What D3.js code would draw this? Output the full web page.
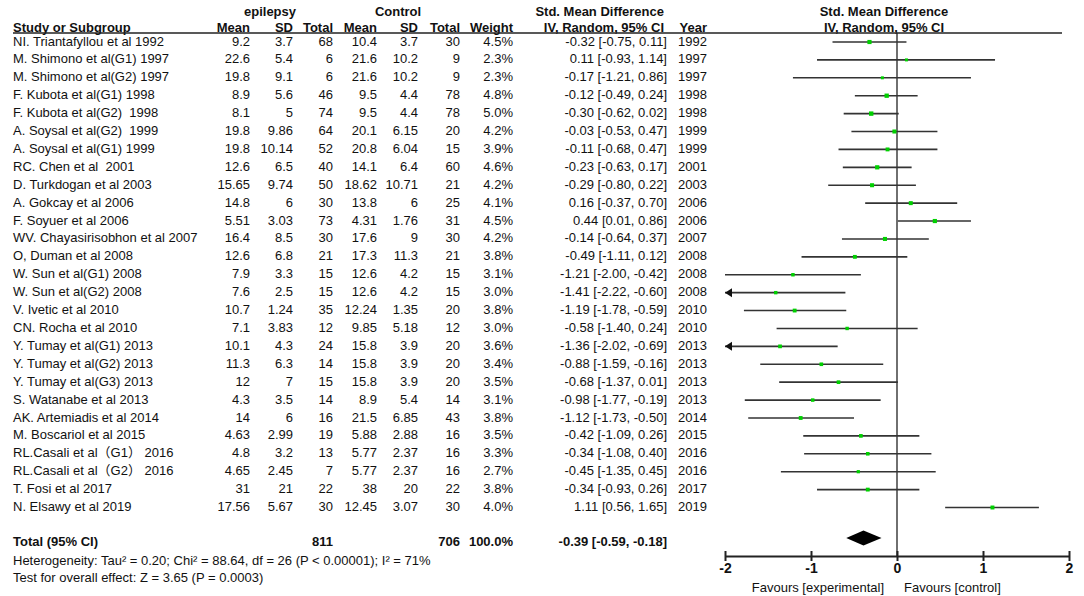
<!DOCTYPE html>
<html>
<head>
<meta charset="utf-8">
<script src="https://cdn.jsdelivr.net/npm/d3@7"></script>
<style>
  body { margin: 0; background: #fff; }
  svg text { font-family: "Liberation Sans", Arial, "Noto Sans CJK SC", sans-serif; fill: #111; white-space: pre; }
  .bold { font-weight: bold; }
</style>
</head>
<body>
<svg></svg>
<script>
// table data
const studies = [
  "NI. Triantafyllou et al 1992", "M. Shimono et al(G1) 1997", "M. Shimono et al(G2) 1997",
  "F. Kubota et al(G1) 1998", "F. Kubota et al(G2)  1998", "A. Soysal et al(G2)  1999",
  "A. Soysal et al(G1) 1999", "RC. Chen et al  2001", "D. Turkdogan et al 2003",
  "A. Gokcay et al 2006", "F. Soyuer et al 2006", "WV. Chayasirisobhon et al 2007",
  "O, Duman et al 2008", "W. Sun et al(G1) 2008", "W. Sun et al(G2) 2008",
  "V. Ivetic et al 2010", "CN. Rocha et al 2010", "Y. Tumay et al(G1) 2013",
  "Y. Tumay et al(G2) 2013", "Y. Tumay et al(G3) 2013", "S. Watanabe et al 2013",
  "AK. Artemiadis et al 2014", "M. Boscariol et al 2015", "RL.Casali et al（G1） 2016",
  "RL.Casali et al（G2） 2016", "T. Fosi et al 2017", "N. Elsawy et al 2019"
];
const epiMean = ["9.2","22.6","19.8","8.9","8.1","19.8","19.8","12.6","15.65","14.8","5.51","16.4","12.6","7.9","7.6","10.7","7.1","10.1","11.3","12","4.3","14","4.63","4.8","4.65","31","17.56"];
const epiSD   = ["3.7","5.4","9.1","5.6","5","9.86","10.14","6.5","9.74","6","3.03","8.5","6.8","3.3","2.5","1.24","3.83","4.3","6.3","7","3.5","6","2.99","3.2","2.45","21","5.67"];
const epiN    = [68,6,6,46,74,64,52,40,50,30,73,30,21,15,15,35,12,24,14,15,14,16,19,13,7,22,30];
const ctlMean = ["10.4","21.6","21.6","9.5","9.5","20.1","20.8","14.1","18.62","13.8","4.31","17.6","17.3","12.6","12.6","12.24","9.85","15.8","15.8","15.8","8.9","21.5","5.88","5.77","5.77","38","12.45"];
const ctlSD   = ["3.7","10.2","10.2","4.4","4.4","6.15","6.04","6.4","10.71","6","1.76","9","11.3","4.2","4.2","1.35","5.18","3.9","3.9","3.9","5.4","6.85","2.88","2.37","2.37","20","3.07"];
const ctlN    = [30,9,9,78,78,20,15,60,21,25,31,30,21,15,15,20,12,20,20,20,14,43,16,16,16,22,30];
const weight  = [4.5,2.3,2.3,4.8,5.0,4.2,3.9,4.6,4.2,4.1,4.5,4.2,3.8,3.1,3.0,3.8,3.0,3.6,3.4,3.5,3.1,3.8,3.5,3.3,2.7,3.8,4.0];
const smd     = [-0.32,0.11,-0.17,-0.12,-0.30,-0.03,-0.11,-0.23,-0.29,0.16,0.44,-0.14,-0.49,-1.21,-1.41,-1.19,-0.58,-1.36,-0.88,-0.68,-0.98,-1.12,-0.42,-0.34,-0.45,-0.34,1.11];
const ciLo    = [-0.75,-0.93,-1.21,-0.49,-0.62,-0.53,-0.68,-0.63,-0.80,-0.37,0.01,-0.64,-1.11,-2.00,-2.22,-1.78,-1.40,-2.02,-1.59,-1.37,-1.77,-1.73,-1.09,-1.08,-1.35,-0.93,0.56];
const ciHi    = [0.11,1.14,0.86,0.24,0.02,0.47,0.47,0.17,0.22,0.70,0.86,0.37,0.12,-0.42,-0.60,-0.59,0.24,-0.69,-0.16,0.01,-0.19,-0.50,0.26,0.40,0.45,0.26,1.65];
const years   = [1992,1997,1997,1998,1998,1999,1999,2001,2003,2006,2006,2007,2008,2008,2008,2010,2010,2013,2013,2013,2013,2014,2015,2016,2016,2017,2019];

// pooled result
const totalEpiN = 811;
const totalCtlN = 706;
const pooled = { est: -0.39, lo: -0.59, hi: -0.18 };
const axisTicks = [-2, -1, 0, 1, 2];

const width = 1084;
const height = 596;
const svg = d3.select("svg").attr("width", width).attr("height", height);

// plain hyphen instead of d3's unicode minus
const fmt2 = (v) => d3.format(".2f")(v).replace("\u2212", "-");
const ciText = (i) => fmt2(smd[i]) + " [" + fmt2(ciLo[i]) + ", " + fmt2(ciHi[i]) + "]";

let x = d3.scaleLinear().domain([-2, 2]).range([725, 1069]);
let y = d3.scaleLinear().domain([0, studies.length - 1]).range([41, 506.5]);
let wScale = d3.scaleSqrt().domain([0, d3.max(weight)]).range([0, 4.4]);

const fs = 13;

function txt(xp, yp, s, anchor, bold, size) {
  svg.append("text")
     .attr("x", xp)
     .attr("y", yp)
     .attr("dy", "0.35em")
     .attr("text-anchor", anchor || "start")
     .attr("class", bold ? "bold" : null)
     .style("font-size", (size || fs) + "px")
     .text(s);
}

function drawHeader() {
  txt(270, 11, "epilepsy", "middle", true);
  txt(398, 11, "Control", "middle", true);
  txt(664, 11, "Std. Mean Difference", "end", true);
  txt(884, 11, "Std. Mean Difference", "middle", true);

  txt(13, 27, "Study or Subgroup", "start", true);
  txt(250, 27, "Mean", "end", true);
  txt(293, 27, "SD", "end", true);
  txt(333, 27, "Total", "end", true);
  txt(377, 27, "Mean", "end", true);
  txt(418, 27, "SD", "end", true);
  txt(460, 27, "Total", "end", true);
  txt(513, 27, "Weight", "end", true);
  txt(664, 27, "IV, Random, 95% CI", "end", true);
  txt(707, 27, "Year", "end", true);
  txt(884, 27, "IV, Random, 95% CI", "middle", true);

  svg.append("line")
     .attr("x1", 13).attr("x2", 1062)
     .attr("y1", 33).attr("y2", 33)
     .attr("stroke", "#222").attr("stroke-width", 1.5);
}

function drawRows() {
  studies.forEach((s, i) => {
    const yy = y(i);
    txt(13, yy, s, "start");
    txt(250, yy, epiMean[i], "end");
    txt(293, yy, epiSD[i], "end");
    txt(333, yy, epiN[i], "end");
    txt(377, yy, ctlMean[i], "end");
    txt(418, yy, ctlSD[i], "end");
    txt(460, yy, ctlN[i], "end");
    txt(513, yy, weight[i].toFixed(1) + "%", "end");
    txt(667, yy, ciText(i), "end");
    txt(707, yy, years[i], "end");
  });

  txt(13, 541.5, "Total (95% CI)", "start", true);
  txt(333, 541.5, totalEpiN, "end", true);
  txt(460, 541.5, totalCtlN, "end", true);
  txt(513, 541.5, "100.0%", "end", true);
  txt(667, 541.5, fmt2(pooled.est) + " [" + fmt2(pooled.lo) + ", " + fmt2(pooled.hi) + "]", "end", true);
  txt(13, 560, "Heterogeneity: Tau\u00b2 = 0.20; Chi\u00b2 = 88.64, df = 26 (P < 0.00001); I\u00b2 = 71%", "start");
  txt(13, 577.5, "Test for overall effect: Z = 3.65 (P = 0.0003)", "start");
}

function drawPlot() {
  // line of no effect
  svg.append("line")
     .attr("x1", x(0)).attr("x2", x(0))
     .attr("y1", 33).attr("y2", 556)
     .attr("stroke", "#222").attr("stroke-width", 1.3);

  const g = svg.append("g");
  studies.forEach((s, i) => {
    const yy = y(i) + 1;
    const lo = Math.max(ciLo[i], -2);
    const hi = Math.min(ciHi[i], 2);
    g.append("line")
     .attr("x1", x(lo)).attr("x2", x(hi))
     .attr("y1", yy).attr("y2", yy)
     .attr("stroke", "#333").attr("stroke-width", 1.6);
    if (ciLo[i] < -2.005) {
      const ax = x(-2);
      g.append("path")
       .attr("d", "M" + ax + "," + yy + "l7,-4.5l0,9z")
       .attr("fill", "#111");
    }
    const sz = wScale(weight[i]);
    g.append("rect")
     .attr("x", x(smd[i]) - sz / 2)
     .attr("y", yy - sz / 2)
     .attr("width", sz)
     .attr("height", sz)
     .attr("fill", "#00d000");
  });

  // pooled diamond
  const dy = 538, dh = 7.5;
  svg.append("path")
     .attr("d", "M" + x(pooled.lo) + "," + dy +
                "L" + x(pooled.est) + "," + (dy - dh) +
                "L" + x(pooled.hi) + "," + dy +
                "L" + x(pooled.est) + "," + (dy + dh) + "Z")
     .attr("fill", "#000");

  // axis
  const xAxis = d3.axisBottom(x).tickValues(axisTicks).tickSizeInner(0).tickSizeOuter(0).tickPadding(7);
  const ax = svg.append("g")
     .attr("transform", "translate(0," + 556 + ")")
     .call(xAxis);
  ax.select(".domain").attr("stroke", "#222").attr("stroke-width", 2);
  ax.selectAll(".tick line")
    .attr("y1", -5).attr("y2", 5)
    .attr("stroke", "#222").attr("stroke-width", 2);
  ax.selectAll(".tick text")
    .style("font-size", "14px")
    .style("font-weight", "bold")
    .style("font-family", "'Liberation Sans', Arial, sans-serif")
    .attr("fill", "#111")
    .text(d => d < 0 ? "-" + Math.abs(d) : d);

  txt(x(0) - 13, 587, "Favours [experimental]", "end");
  txt(x(0) + 7, 587, "Favours [control]", "start");
}

drawHeader();
drawRows();
drawPlot();
</script>
</body>
</html>
